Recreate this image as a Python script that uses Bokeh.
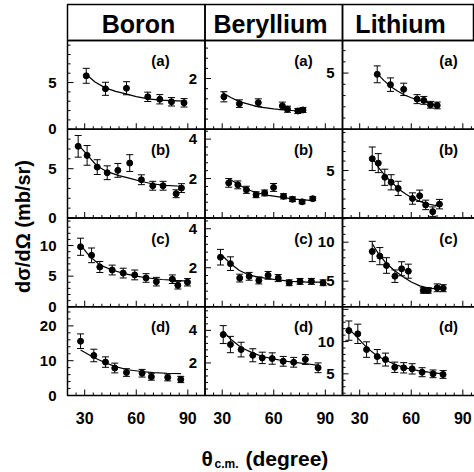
import numpy as np
from bokeh.plotting import figure
from bokeh.models import Range1d, Label
from bokeh.embed import file_html
from bokeh.resources import INLINE
from bokeh.core.properties import value

# ---------------- data ----------------
elements = ["Boron", "Beryllium", "Lithium"]
panel_tags = ["(a)", "(b)", "(c)", "(d)"]
x_ticks = [30, 60, 90]
x_tick_labels = ["30", "60", "90"]

boron_a_x = [30.9, 42.1, 54.3, 66.7, 73.7, 80.5, 87.8]
boron_a_y = [5.72, 4.33, 4.39, 3.47, 3.21, 2.94, 2.83]
boron_a_e = [0.8, 0.7, 0.7, 0.5, 0.5, 0.45, 0.45]
boron_a_fx = [31, 36, 42, 48, 54, 60, 67, 74, 80, 88]
boron_a_fy = [5.86, 5.05, 4.43, 4.05, 3.79, 3.5, 3.26, 3.12, 3.07, 3.0]

boron_b_x = [26.2, 31.4, 37.3, 43.1, 49.3, 56.2, 63.0, 69.6, 75.6, 83.2, 86.3]
boron_b_y = [7.27, 6.35, 5.16, 4.59, 4.83, 5.57, 3.88, 3.27, 3.27, 2.46, 3.03]
boron_b_e = [1.1, 1.0, 0.75, 0.7, 0.7, 0.85, 0.5, 0.45, 0.45, 0.4, 0.45]
boron_b_fx = [26.2, 31, 37, 43, 50, 57, 63, 70, 77, 86]
boron_b_fy = [7.45, 6.5, 5.3, 4.7, 4.3, 4.0, 3.7, 3.45, 3.3, 3.22]

boron_c_x = [27.6, 34.0, 38.8, 46.0, 52.4, 59.1, 65.7, 71.7, 81.0, 84.2, 89.8]
boron_c_y = [9.8, 8.4, 6.5, 6.0, 5.5, 5.2, 4.7, 4.1, 4.5, 3.5, 4.0]
boron_c_e = [1.4, 1.2, 0.9, 0.8, 0.8, 0.8, 0.7, 0.7, 0.7, 0.6, 0.6]
boron_c_fx = [27.6, 33, 39, 46, 53, 60, 67, 75, 83, 90]
boron_c_fy = [10.1, 8.2, 6.8, 6.0, 5.4, 5.0, 4.7, 4.45, 4.3, 4.2]

boron_d_x = [27.6, 35.3, 42.1, 47.5, 54.3, 63.4, 68.8, 78.3, 85.9]
boron_d_y = [15.6, 11.5, 9.6, 7.9, 6.6, 6.4, 5.4, 5.2, 4.6]
boron_d_e = [2.1, 1.8, 1.5, 1.4, 1.1, 1.1, 1.0, 1.0, 0.9]
boron_d_fx = [27.6, 35, 42, 48, 55, 63, 70, 78, 86]
boron_d_fy = [13.1, 11.0, 9.4, 8.3, 7.4, 6.9, 6.6, 6.4, 6.3]

beryl_a_x = [31, 40, 51, 65, 68, 74, 77]
beryl_a_y = [1.28, 1.01, 1.05, 0.92, 0.79, 0.72, 0.76]
beryl_a_e = [0.2, 0.15, 0.15, 0.15, 0.12, 0.1, 0.1]
beryl_a_fx = [30, 35, 40, 51, 60, 65, 74, 78]
beryl_a_fy = [1.45, 1.25, 1.09, 0.88, 0.8, 0.77, 0.72, 0.74]

beryl_b_x = [33.8, 39.1, 44.1, 49.7, 54.7, 59.9, 65.7, 70.9, 76.5, 82.7]
beryl_b_y = [1.78, 1.68, 1.43, 1.18, 1.27, 1.55, 1.1, 0.95, 0.82, 0.98]
beryl_b_e = [0.22, 0.2, 0.18, 0.15, 0.15, 0.2, 0.13, 0.12, 0.1, 0.1]
beryl_b_fx = [33.8, 39, 44, 50, 57, 65, 72, 83]
beryl_b_fy = [2.0, 1.72, 1.47, 1.28, 1.15, 1.05, 0.96, 0.88]

beryl_c_x = [29.0, 34.8, 40.2, 45.7, 51.3, 56.7, 62.6, 69.0, 75.3, 81.9, 88.7]
beryl_c_y = [2.54, 2.21, 1.47, 1.56, 1.35, 1.61, 1.47, 1.23, 1.3, 1.3, 1.23]
beryl_c_e = [0.4, 0.35, 0.2, 0.2, 0.18, 0.2, 0.18, 0.15, 0.15, 0.15, 0.15]
beryl_c_fx = [30, 35, 40, 45, 51, 60, 70, 80, 89]
beryl_c_fy = [2.63, 2.2, 1.86, 1.65, 1.52, 1.4, 1.3, 1.26, 1.26]

beryl_d_x = [30.6, 34.8, 41.0, 47.8, 53.3, 59.1, 65.5, 71.6, 78.4, 85.8]
beryl_d_y = [3.74, 3.13, 2.82, 2.47, 2.31, 2.27, 2.1, 2.04, 2.21, 1.7]
beryl_d_e = [0.55, 0.5, 0.45, 0.4, 0.35, 0.35, 0.3, 0.3, 0.3, 0.3]
beryl_d_fx = [30.6, 35, 41, 48, 54, 60, 66, 72, 79, 86]
beryl_d_fy = [3.95, 3.45, 2.95, 2.6, 2.38, 2.25, 2.12, 2.04, 1.95, 1.85]

lith_a_x = [40.2, 47.9, 55.6, 63.4, 67.3, 71.2, 75.1]
lith_a_y = [4.89, 3.97, 3.55, 2.68, 2.57, 2.18, 2.12]
lith_a_e = [0.75, 0.6, 0.55, 0.4, 0.35, 0.3, 0.3]
lith_a_fx = [40, 44, 48, 52, 56, 60, 64, 68, 72, 76]
lith_a_fy = [5.0, 4.35, 3.8, 3.4, 3.05, 2.8, 2.62, 2.45, 2.25, 2.05]

lith_b_x = [37.3, 40.8, 44.6, 48.3, 52.4, 60.7, 64.9, 68.4, 72.5, 76.4]
lith_b_y = [6.24, 5.78, 4.29, 3.76, 3.12, 2.05, 2.34, 1.38, 0.67, 1.46]
lith_b_e = [1.24, 1.0, 0.85, 0.8, 0.75, 0.6, 0.6, 0.5, 0.5, 0.5]
lith_b_fx = [37.3, 41, 45, 49, 53, 57, 61, 65, 69, 73, 77]
lith_b_fy = [6.4, 5.3, 4.4, 3.7, 3.0, 2.5, 2.05, 1.75, 1.5, 1.35, 1.28]

lith_c_x = [37.3, 41.7, 45.6, 50.5, 54.4, 58.3, 67.0, 69.9, 75.1, 78.6]
lith_c_y = [8.81, 8.21, 7.01, 5.64, 6.59, 6.28, 3.81, 3.81, 4.15, 4.1]
lith_c_e = [1.3, 1.1, 1.0, 0.8, 0.9, 0.9, 0.35, 0.35, 0.5, 0.45]
lith_c_fx = [37.3, 41, 45, 50, 55, 60, 65, 70, 75, 79]
lith_c_fy = [9.8, 8.5, 7.4, 6.4, 5.6, 4.9, 4.4, 4.1, 4.0, 4.0]

lith_d_x = [23.7, 28.9, 34.0, 40.2, 45.0, 50.4, 55.6, 60.5, 66.3, 72.7, 78.5]
lith_d_y = [11.7, 11.2, 8.76, 7.67, 7.21, 6.02, 5.93, 5.77, 5.25, 5.0, 4.9]
lith_d_e = [1.5, 1.5, 1.2, 1.1, 1.0, 0.8, 0.8, 0.8, 0.7, 0.6, 0.6]
lith_d_fx = [23, 28, 34, 40, 46, 52, 58, 64, 70, 78.5]
lith_d_fy = [12.2, 10.8, 9.1, 7.8, 7.0, 6.3, 5.85, 5.5, 5.25, 5.0]

# axis settings per column (rows a..d): limits, major ticks, minor step, labelled ticks
boron_ylim = [(0, 9.5), (0, 9.0), (0, 14.5), (0, 25.5)]
beryl_ylim = [(0, 3.5), (0, 4.5), (0, 4.55), (0, 5.45)]
lith_ylim = [(0, 7.9), (0, 9.35), (1.72, 13.1), (1.64, 15.4)]
boron_major = [[0, 5], [0, 5], [0, 5, 10], [0, 10, 20]]
beryl_major = [[0, 2, 4]] * 4
lith_major = [[0, 5], [0, 5], [5, 10], [5, 10, 15]]
boron_minor = [1, 1, 1, 2]
beryl_minor = [0.4, 0.4, 0.4, 0.4]
lith_minor = [1, 1, 1, 1]
boron_labels = [[0, 5], [0, 5], [0, 5, 10], [0, 10, 20]]
beryl_labels = [[2], [2, 4], [2, 4], [2, 4]]
lith_labels = [[5], [5], [5, 10], [5, 10]]

# ---------------- assemble tables ----------------
series = [
    [(boron_a_x, boron_a_y, boron_a_e, boron_a_fx, boron_a_fy),
     (boron_b_x, boron_b_y, boron_b_e, boron_b_fx, boron_b_fy),
     (boron_c_x, boron_c_y, boron_c_e, boron_c_fx, boron_c_fy),
     (boron_d_x, boron_d_y, boron_d_e, boron_d_fx, boron_d_fy)],
    [(beryl_a_x, beryl_a_y, beryl_a_e, beryl_a_fx, beryl_a_fy),
     (beryl_b_x, beryl_b_y, beryl_b_e, beryl_b_fx, beryl_b_fy),
     (beryl_c_x, beryl_c_y, beryl_c_e, beryl_c_fx, beryl_c_fy),
     (beryl_d_x, beryl_d_y, beryl_d_e, beryl_d_fx, beryl_d_fy)],
    [(lith_a_x, lith_a_y, lith_a_e, lith_a_fx, lith_a_fy),
     (lith_b_x, lith_b_y, lith_b_e, lith_b_fx, lith_b_fy),
     (lith_c_x, lith_c_y, lith_c_e, lith_c_fx, lith_c_fy),
     (lith_d_x, lith_d_y, lith_d_e, lith_d_fx, lith_d_fy)],
]
ylims = [boron_ylim, beryl_ylim, lith_ylim]
majors = [boron_major, beryl_major, lith_major]
minors = [boron_minor, beryl_minor, lith_minor]
ylabels = [boron_labels, beryl_labels, lith_labels]

# ---------------- layout (pixels) ----------------
W, H = 474, 472
FL, FT, FB = 67, 4, 395          # grid left / top / bottom in pixels
HEADER_B = 40
COL_W = 137.5
ROW_H = (FB - HEADER_B) / 4
X_LO, X_HI = 20, 100
FONTNAME = "Liberation Sans"
FONT = value(FONTNAME)
LW = 1.5
INK = "black"

# the plotting frame covers the whole canvas; main ranges are pixel coordinates
p = figure(width=W, height=H, x_range=Range1d(0, W), y_range=Range1d(H, 0),
           output_backend="svg", toolbar_location=None, title_location=None,
           x_axis_location=None, y_axis_location=None,
           min_border_left=0, min_border_right=0, min_border_top=0, min_border_bottom=0)
p.grid.visible = False
p.outline_line_color = None
p.background_fill_color = "white"
p.border_fill_color = "white"

sx = COL_W / (X_HI - X_LO)
for k in range(3):
    L = FL + k * COL_W
    p.extra_x_ranges[f"x{k}"] = Range1d(X_LO - L / sx, X_LO + (W - L) / sx)

# header band
hh = HEADER_B - FT
p.extra_y_ranges["hdr"] = Range1d(-(H - HEADER_B) / hh, 1.0 + FT / hh)
header_x = [138, 270, 400]
for k in range(3):
    p.quad(left=[X_LO], right=[X_HI], bottom=[0], top=[1], fill_color=None,
           line_color=INK, line_width=LW, x_range_name=f"x{k}", y_range_name="hdr")
    p.text(x=[header_x[k]], y=[(FT + HEADER_B) / 2 + 1], text=[elements[k]],
           text_font=FONT, text_font_style="bold", text_font_size="25px",
           text_color=INK, text_align="center", text_baseline="middle")
# right edge of the header box (at the window edge)
p.segment(x0=[W - 1], y0=[FT], x1=[W - 1], y1=[HEADER_B], line_color=INK, line_width=LW)

tag_x = [160, 303, 448]
MAJ, MIN = 6, 3
for j in range(4):
    T = HEADER_B + j * ROW_H
    B = T + ROW_H
    for k in range(3):
        lo, hi = ylims[k][j]
        pu = ROW_H / (hi - lo)
        xn, yn = f"x{k}", f"y{j}{k}"
        p.extra_y_ranges[yn] = Range1d(lo - (H - B) / pu, hi + T / pu)
        kw = dict(x_range_name=xn, y_range_name=yn)
        p.quad(left=[X_LO], right=[X_HI], bottom=[lo], top=[hi], fill_color=None,
               line_color=INK, line_width=LW, **kw)
        # y ticks (inward)
        mj = [t for t in majors[k][j] if lo <= t <= hi]
        step = minors[k][j]
        mn = [float(t) for t in np.arange(np.floor(lo), hi, step)
              if t >= lo and all(abs(t - m) > 1e-6 for m in mj)]
        p.ray(x=[X_LO] * len(mj), y=mj, length=MAJ, angle=0, length_units="screen",
              line_color=INK, line_width=1, **kw)
        p.ray(x=[X_LO] * len(mn), y=mn, length=MIN, angle=0, length_units="screen",
              line_color=INK, line_width=1, **kw)
        # x ticks (inward)
        xmn = [float(t) for t in np.arange(25, X_HI, 5) if t not in x_ticks]
        p.ray(x=x_ticks, y=[lo] * 3, length=MAJ, angle=np.pi / 2, length_units="screen",
              line_color=INK, line_width=1, **kw)
        p.ray(x=xmn, y=[lo] * len(xmn), length=MIN, angle=np.pi / 2, length_units="screen",
              line_color=INK, line_width=1, **kw)
        # y tick labels (placed a few pixels left of the panel edge)
        labs = ylabels[k][j]
        gap = (11 if k == 0 else 8) / sx
        p.text(x=[X_LO - gap] * len(labs), y=labs, text=[str(v) for v in labs],
               text_align="right", text_baseline="middle", text_color=INK,
               text_font=FONT, text_font_style="bold", text_font_size="15px", **kw)
        if j == 3:
            ylab = lo - 22 / pu
            p.text(x=x_ticks, y=[ylab] * 3, text=x_tick_labels,
                   text_align="center", text_baseline="middle", text_color=INK,
                   text_font=FONT, text_font_style="bold", text_font_size="16px", **kw)
        # data
        xs, ys, es, fx, fy = series[k][j]
        xs = np.array(xs); ys = np.array(ys); es = np.array(es)
        p.line(fx, fy, line_color=INK, line_width=1.2, **kw)
        p.segment(x0=xs, y0=ys - es, x1=xs, y1=ys + es, line_color=INK, line_width=1, **kw)
        p.scatter(xs, ys - es, marker="dash", size=7, line_color=INK, line_width=1, **kw)
        p.scatter(xs, ys + es, marker="dash", size=7, line_color=INK, line_width=1, **kw)
        p.scatter(xs, ys, marker="circle", size=6, fill_color=INK, line_color=INK, **kw)
        # panel tag
        p.text(x=[tag_x[k]], y=[T + 20], text=[panel_tags[j]], text_font=FONT,
               text_font_style="bold", text_font_size="15px", text_color=INK,
               text_align="center", text_baseline="middle")

# axis titles
p.add_layout(Label(x=22, y=226, text="dσ/dΩ (mb/sr)", angle=np.pi / 2,
                   text_align="center", text_baseline="middle", text_font=FONTNAME,
                   text_font_style="bold", text_font_size="20px", text_color=INK))
p.add_layout(Label(x=201, y=458, text="θ", text_align="left", text_baseline="alphabetic",
                   text_font=FONTNAME, text_font_style="bold", text_font_size="21px",
                   text_color=INK))
p.add_layout(Label(x=214, y=463, text="c.m.", text_align="left", text_baseline="alphabetic",
                   text_font=FONTNAME, text_font_style="bold", text_font_size="12px",
                   text_color=INK))
p.add_layout(Label(x=245, y=458, text="(degree)", text_align="left", text_baseline="alphabetic",
                   text_font=FONTNAME, text_font_style="bold", text_font_size="21px",
                   text_color=INK))

open("out.html", "w").write(file_html(p, INLINE))
